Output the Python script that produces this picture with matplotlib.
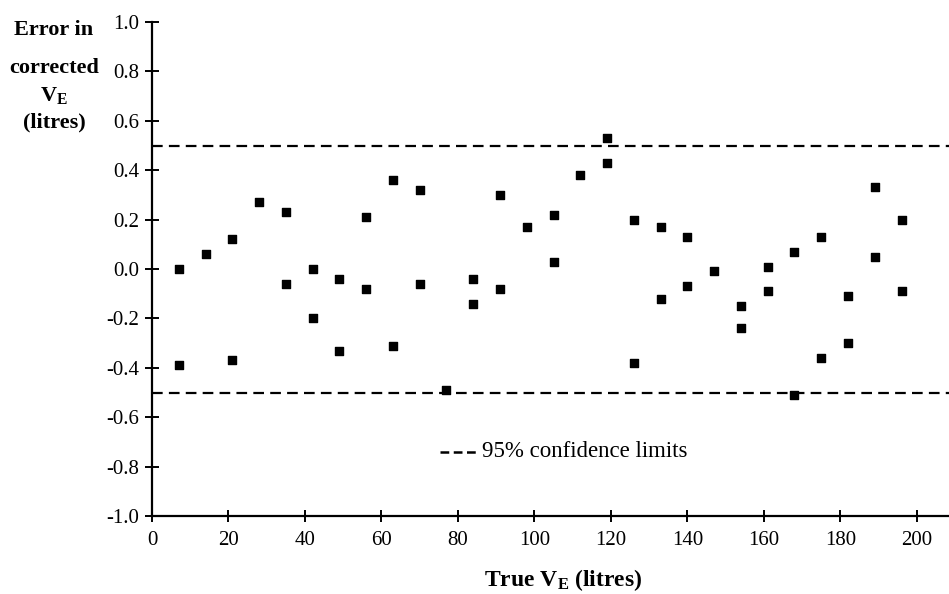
import numpy as np
import matplotlib
matplotlib.use("Agg")
import matplotlib.pyplot as plt

# values: true VE (litres) and error in corrected VE (litres)
TRUE_VE = [7, 7, 14, 21, 21, 28, 35, 35, 42, 42, 49, 49, 56, 56, 63, 63,
           70, 70, 77, 84, 84, 91, 91, 98, 105, 105, 112, 119, 119, 126, 126,
           133, 133, 140, 140, 147, 154, 154, 161, 161, 168, 168, 175, 175,
           182, 182, 189, 189, 196, 196]
ERROR_VE = [0.00, -0.39, 0.06, 0.12, -0.37, 0.27, 0.23, -0.06, 0.00, -0.20,
            -0.04, -0.33, 0.21, -0.08, 0.36, -0.31, 0.32, -0.06, -0.49,
            -0.04, -0.14, 0.30, -0.08, 0.17, 0.22, 0.03, 0.38, 0.53, 0.43,
            0.20, -0.38, 0.17, -0.12, 0.13, -0.07, -0.01, -0.15, -0.24,
            0.01, -0.09, 0.07, -0.51, 0.13, -0.36, -0.11, -0.30, 0.33, 0.05,
            0.20, -0.09]
CONF_LIMITS = [0.5, -0.5]
X_TICKS = [0, 20, 40, 60, 80, 100, 120, 140, 160, 180, 200]
Y_TICKS = [-1.0, -0.8, -0.6, -0.4, -0.2, 0.0, 0.2, 0.4, 0.6, 0.8, 1.0]

plt.rcParams['font.family'] = ['Liberation Serif', 'DejaVu Serif']
plt.rcParams['mathtext.fontset'] = 'custom'
plt.rcParams['mathtext.rm'] = 'Liberation Serif'
plt.rcParams['mathtext.bf'] = 'Liberation Serif:bold'
plt.rcParams['axes.unicode_minus'] = False

fig = plt.figure(figsize=(9.49, 5.94), dpi=100)
ax = fig.add_axes([152 / 949, (594 - 516) / 594, 1 - 152 / 949, (516 - 22) / 594])

ax.scatter(TRUE_VE, ERROR_VE, marker='s', s=32, color='black', zorder=3)

for lim in CONF_LIMITS:
    ax.axhline(lim, color='black', lw=1.6, dashes=(4.8, 2.8), zorder=2)

ax.set_xlim(0, 208.4)
ax.set_ylim(-1.0, 1.0)
ax.set_xticks(X_TICKS)
ax.set_yticks(Y_TICKS)
ax.set_yticklabels([f"{v:.1f}" for v in Y_TICKS])

ax.spines['top'].set_visible(False)
ax.spines['right'].set_visible(False)
ax.spines['left'].set_linewidth(1.6)
ax.spines['bottom'].set_linewidth(1.6)
ax.tick_params(axis='y', direction='inout', length=10, width=1.4, labelsize=15, pad=4)
ax.tick_params(axis='x', direction='inout', length=9, width=1.4, labelsize=15, pad=6)

# legend entry for the dashed lines
ax.plot([0.361, 0.409], [0.1296, 0.1296], transform=ax.transAxes,
        color='black', lw=1.8, dashes=(3.5, 1.8))
ax.text(0.414, 0.1296, "95% confidence limits", transform=ax.transAxes,
        fontsize=16.5, va='center', ha='left')

# y label, one line at a time
fig.text(54 / 949, 1 - 30 / 594, "Error in", fontsize=16, fontweight='bold',
         ha='center', va='center')
fig.text(54 / 949, 1 - 68 / 594, "corrected", fontsize=16, fontweight='bold',
         ha='center', va='center')
fig.text(54 / 949, 1 - 96 / 594, r"$\mathbf{V_E}$", fontsize=16,
         ha='center', va='center')
fig.text(54 / 949, 1 - 122 / 594, "(litres)", fontsize=16, fontweight='bold',
         ha='center', va='center')

fig.text(563 / 949, 1 - 580 / 594, r"True $\mathbf{V_E}$ (litres)", fontsize=17,
         fontweight='bold', ha='center', va='center')

fig.savefig("out.png", dpi=100)
